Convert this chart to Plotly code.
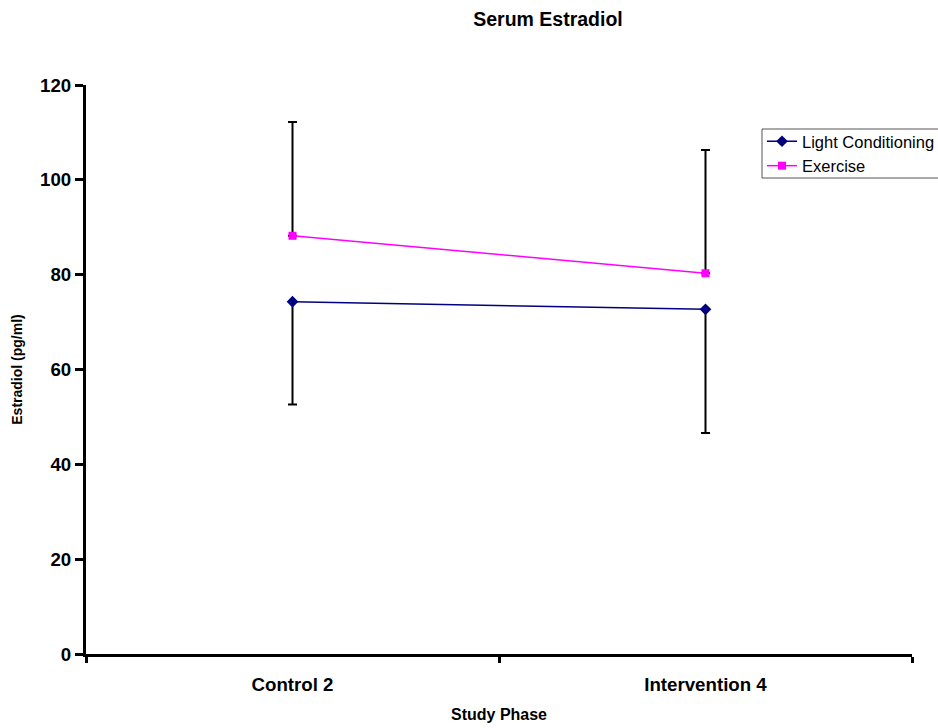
import plotly.graph_objects as go

categories = ["Control 2", "Intervention 4"]
light_values = [74.3, 72.7]
light_err = [21.7, 26.1]
exercise_values = [88.2, 80.3]
exercise_err = [24.0, 26.0]
y_ticks = [0, 20, 40, 60, 80, 100, 120]

FONT = "Liberation Sans, Arial, sans-serif"

fig = go.Figure()
fig.add_trace(go.Scatter(
    x=categories, y=light_values, name="Light Conditioning",
    mode="lines+markers",
    line=dict(color="#000080", width=1.5),
    marker=dict(symbol="diamond", size=9, color="#000080"),
    error_y=dict(type="data", symmetric=False, array=[0, 0], arrayminus=light_err,
                 color="black", thickness=2, width=4.5),
))
fig.add_trace(go.Scatter(
    x=categories, y=exercise_values, name="Exercise",
    mode="lines+markers",
    line=dict(color="#FF00FF", width=1.5),
    marker=dict(symbol="square", size=8, color="#FF00FF"),
    error_y=dict(type="data", symmetric=False, array=exercise_err, arrayminus=[0, 0],
                 color="black", thickness=2, width=4.5),
))

L, R, T, B = 86, 26, 85, 74
PW, PH = 938 - L - R, 728 - T - B

def px_x(v):
    return (v - L) / PW

def px_y(v):
    return (728 - B - v) / PH

fig.update_layout(
    width=938, height=728,
    margin=dict(l=L, r=R, t=T, b=B, autoexpand=False),
    paper_bgcolor="white", plot_bgcolor="white",
    font=dict(family=FONT, color="black"),
    title=dict(text="<b>Serum Estradiol</b>", font=dict(size=19.5, family=FONT),
               xref="container", x=548/938, xanchor="center",
               yref="container", y=1 - 19/728, yanchor="middle"),
    showlegend=True,
    legend=dict(x=px_x(762), xanchor="left", y=px_y(124), yanchor="top",
                borderwidth=0, bgcolor="rgba(0,0,0,0)",
                font=dict(size=16.5, family=FONT), tracegroupgap=0,
                itemwidth=30),
    shapes=[dict(type="rect", xref="paper", yref="paper",
                 x0=px_x(762), x1=px_x(945), y0=px_y(178), y1=px_y(129),
                 line=dict(color="#555555", width=1), fillcolor="rgba(0,0,0,0)",
                 layer="below")],
    xaxis=dict(
        type="category", range=[-0.5, 1.5], tickson="boundaries",
        showline=True, linecolor="black", linewidth=3,
        ticks="outside", ticklen=6, tickwidth=3, tickcolor="black",
        showgrid=False, zeroline=False,
        tickfont=dict(size=18.7, family=FONT, weight="bold"),
        ticklabelstandoff=12,
        title=dict(text="<b>Study Phase</b>", font=dict(size=16, family=FONT), standoff=15),
    ),
    yaxis=dict(
        range=[0, 120], tickvals=y_ticks, ticktext=[str(v) for v in y_ticks],
        showline=True, linecolor="black", linewidth=3,
        ticks="outside", ticklen=8, tickwidth=3, tickcolor="black",
        showgrid=False, zeroline=False,
        tickfont=dict(size=18.7, family=FONT, weight="bold"),
        ticklabelstandoff=0,
        title=dict(text="<b>Estradiol (pg/ml)</b>", font=dict(size=14, family=FONT), standoff=15),
    ),
)

fig.write_html("out.html")
